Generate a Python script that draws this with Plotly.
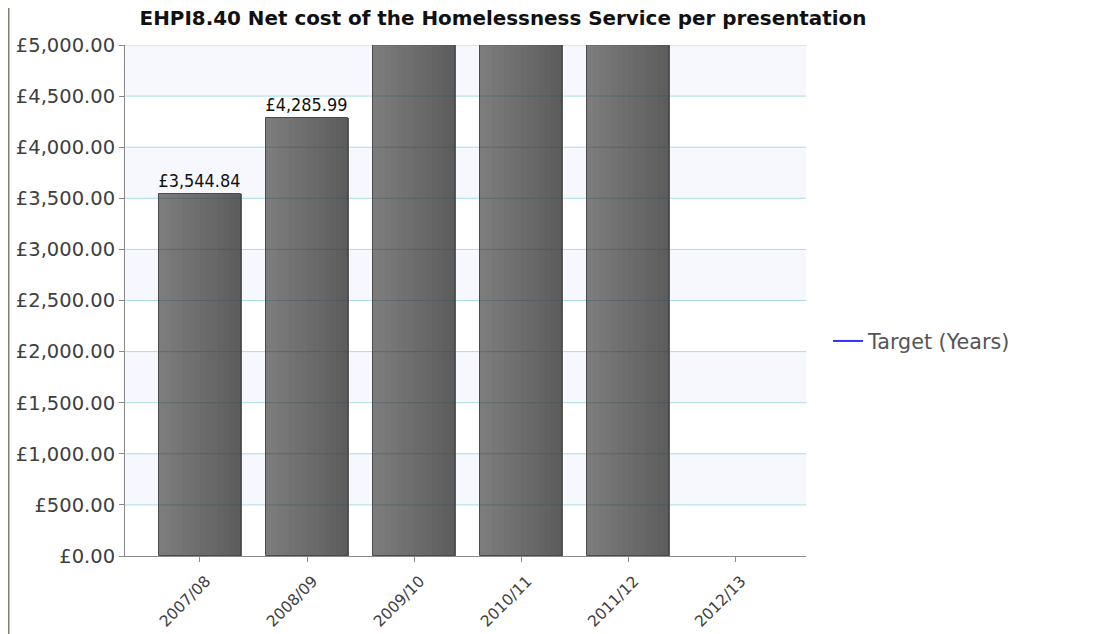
import plotly.graph_objects as go

# ---- data ----
categories = ["2007/08", "2008/09", "2009/10", "2010/11", "2011/12", "2012/13"]
net_cost = [3544.84, 4285.99, 5600.00, 5900.00, 5700.00, None]
target = [None, None, None, None, None, None]
y_ticks = [0, 500, 1000, 1500, 2000, 2500, 3000, 3500, 4000, 4500, 5000]
y_tick_text = ["£{:,.2f}".format(v) for v in y_ticks]
y_max = 5000
title_text = "EHPI8.40 Net cost of the Homelessness Service per presentation"

# ---- geometry (pixels, figure coords; page body adds 8px margin) ----
W, H = 1112, 626
L, R, T, B = 117, 798, 37, 548
PW, PH = R - L, B - T

fig = go.Figure()

# gradient bars built from slices
bw = 0.765
N = 14
c0 = (0x7c, 0x7c, 0x7c)
c1 = (0x5d, 0x5d, 0x5d)
for k in range(N):
    f = k / (N - 1)
    col = "rgb(%d,%d,%d)" % tuple(round(a + (b - a) * f) for a, b in zip(c0, c1))
    fig.add_trace(go.Bar(
        x=categories, y=net_cost, width=bw / N * 1.2, offset=-bw / 2 + k * bw / N,
        marker=dict(color=col, line=dict(width=0)), showlegend=False, hoverinfo="skip",
    ))

labels = ["" if (v is None or v > y_max) else "£{:,.2f}".format(v) for v in net_cost]
fig.add_trace(go.Bar(
    x=categories, y=net_cost, width=bw, offset=-bw / 2,
    marker=dict(color="rgba(0,0,0,0)", line=dict(color="#4a4a4a", width=1)),
    text=labels, textposition="outside", cliponaxis=True,
    textfont=dict(family="DejaVu Sans Condensed, Liberation Sans, sans-serif", size=18, color="#111"),
    showlegend=False, name="Net cost",
))

fig.add_trace(go.Scatter(
    x=categories, y=target, mode="lines", name="Target (Years)",
    line=dict(color="#3333ff", width=2), showlegend=True,
))

shapes = []
# alternating background bands
for i in range(1, len(y_ticks) - 1, 2):
    shapes.append(dict(type="rect", xref="paper", yref="y", x0=0, x1=1,
                       y0=y_ticks[i], y1=y_ticks[i + 1],
                       fillcolor="#f6f8fd", line=dict(width=0), layer="below"))
# gridlines
for v in y_ticks[1:]:
    shapes.append(dict(type="line", xref="paper", yref="y", x0=0, x1=1, y0=v, y1=v,
                       line=dict(color="#aadce5", width=1), layer="between"))
# gridlines showing through the bars (darker tint)
for i, v in enumerate(net_cost):
    if v is None:
        continue
    for t in y_ticks[1:]:
        if t <= min(v, y_max):
            shapes.append(dict(type="line", xref="x", yref="y", x0=i - bw / 2, x1=i + bw / 2,
                               y0=t, y1=t, line=dict(color="rgba(30,80,90,0.3)", width=1),
                               layer="above"))
# left frame line
shapes.append(dict(type="line", xref="paper", yref="paper",
                   x0=-L / PW + 0.5 / PW, x1=-L / PW + 0.5 / PW,
                   y0=-(H - B) / PH, y1=B / PH,
                   line=dict(color="#7f7f70", width=2), layer="above"))

fig.update_layout(
    width=W, height=H,
    margin=dict(l=L, r=W - R, t=T, b=H - B, autoexpand=False),
    paper_bgcolor="white", plot_bgcolor="white",
    barmode="overlay", bargap=0,
    shapes=shapes,
    title=dict(text="<b>" + title_text + "</b>", xref="container", yref="container",
               x=495 / W, y=1 - 10.5 / H, xanchor="center", yanchor="middle",
               font=dict(family="DejaVu Sans, sans-serif", size=19.9, color="#111")),
    legend=dict(x=(820 - L) / PW, y=(B - 333) / PH, xanchor="left", yanchor="middle",
                font=dict(family="DejaVu Sans, sans-serif", size=20.7, color="#555"),
                bgcolor="rgba(0,0,0,0)"),
    showlegend=True,
    font=dict(family="DejaVu Sans, sans-serif"),
)

fig.update_yaxes(range=[0, y_max], tickvals=y_ticks, ticktext=y_tick_text,
                 showgrid=False, zeroline=False,
                 showline=True, linecolor="#8a8a8a", linewidth=1,
                 ticks="outside", ticklen=5, tickcolor="#8a8a8a",
                 tickfont=dict(family="DejaVu Sans, sans-serif", size=19.5, color="#404040"),
                 automargin=False)
fig.update_xaxes(type="category", categoryarray=categories, range=[-0.70, 5.66],
                 showgrid=False, showline=True, linecolor="#8a8a8a", linewidth=1,
                 ticks="outside", ticklen=5, tickcolor="#8a8a8a", tickangle=-45,
                 ticklabelstandoff=4, ticklabelshift=6,
                 tickfont=dict(family="DejaVu Sans, sans-serif", size=15.5, color="#404040"),
                 automargin=False)

fig.write_html("out.html")
